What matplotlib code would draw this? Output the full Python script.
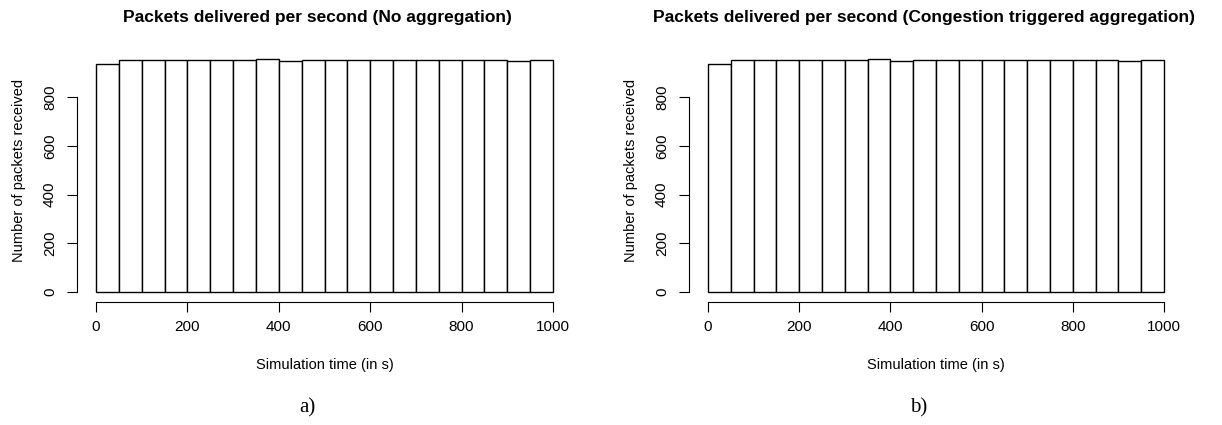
import numpy as np
import matplotlib
matplotlib.use("Agg")
import matplotlib.pyplot as plt

plt.rcParams["font.family"] = ["Liberation Sans", "DejaVu Sans"]

# 50 s bins over the 1000 s run
bin_edges = np.arange(0, 1001, 50)
counts_no_agg = [937, 953, 953, 953, 953, 953, 950, 955, 949, 953,
                 953, 953, 953, 953, 953, 953, 953, 953, 949, 953]
counts_congestion = [937, 953, 953, 953, 953, 953, 950, 955, 949, 953,
                     953, 953, 953, 953, 953, 953, 953, 953, 949, 953]

titles = ["Packets delivered per second (No aggregation)",
          "Packets delivered per second (Congestion triggered aggregation)"]
title_x = [0.485, 0.474]
captions = ["a)", "b)"]
x_ticks = [0, 200, 400, 600, 800, 1000]
y_ticks = [0, 200, 400, 600, 800]

W, H = 1222, 425
fig = plt.figure(figsize=(W / 100, H / 100), dpi=100)

# panel placement in pixels: left edge of x=0, right edge of x=1000
panels = [(96, 553), (708, 1164)]
y0_px, y1000_px = 292, 48.3

for (xl, xr), counts, title, tx, cap in zip(panels, [counts_no_agg, counts_congestion],
                                            titles, title_x, captions):
    ax = fig.add_axes([xl / W, (H - y0_px) / H, (xr - xl) / W, (y0_px - y1000_px) / H])
    ax.bar(bin_edges[:-1], counts, width=np.diff(bin_edges), align="edge",
           facecolor="white", edgecolor="black", linewidth=1.0, clip_on=False)
    ax.set_xlim(0, 1000)
    ax.set_ylim(0, 1000)

    # R-style detached axes
    for s in ["top", "right"]:
        ax.spines[s].set_visible(False)
    ax.spines["left"].set_position(("outward", 14))
    ax.spines["bottom"].set_position(("outward", 7.5))
    ax.spines["left"].set_bounds(0, 800)
    ax.spines["bottom"].set_bounds(0, 1000)
    for s in ["left", "bottom"]:
        ax.spines[s].set_linewidth(0.8)

    ax.set_xticks(x_ticks)
    ax.set_yticks(y_ticks)
    ax.tick_params(direction="out", length=7, width=0.8, labelsize=11, pad=6)
    ax.tick_params(axis="y", labelrotation=90, pad=7)
    for lab in ax.get_yticklabels():
        lab.set_va("center")

    ax.set_xlabel("Simulation time (in s)", fontsize=10.5, labelpad=17)
    ax.set_ylabel("Number of packets received", fontsize=10.5, labelpad=12)
    ax.set_title(title, fontsize=12.5, fontweight="bold", pad=19, x=tx)

    fig.text((xl + xr) / 2 / W - 0.014, 1 - 408 / H, cap, ha="center", va="center",
             fontsize=15, family=["Liberation Serif", "DejaVu Serif"])

fig.savefig("out.png", dpi=100, facecolor="white")
